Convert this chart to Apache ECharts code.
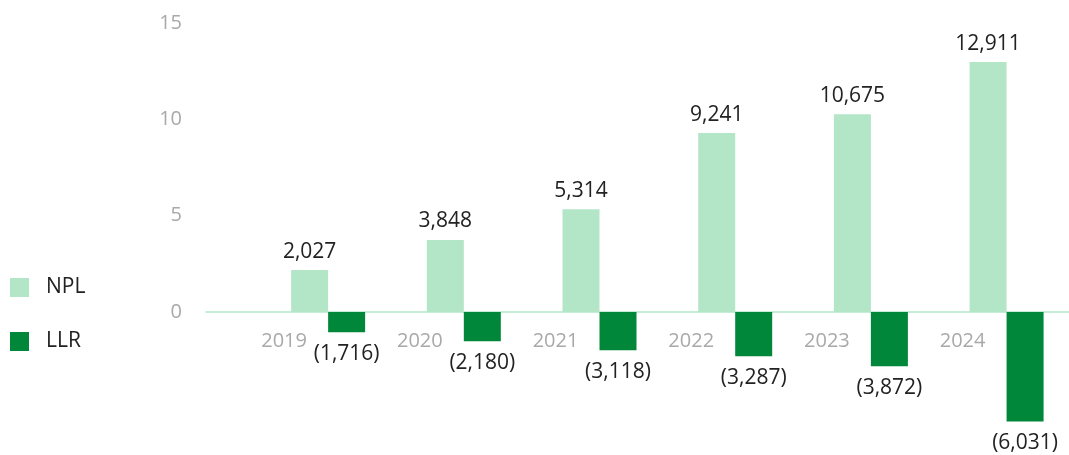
<!DOCTYPE html>
<html>
<head>
<meta charset="utf-8">
<script src="https://cdn.jsdelivr.net/npm/echarts@6/dist/echarts.min.js"></script>
<style>
html,body{margin:0;padding:0;background:#fff;}
#chart{width:1069px;height:455px;}
</style>
</head>
<body>
<div id="chart"></div>
<script>
// Categories
const years = ['2019', '2020', '2021', '2022', '2023', '2024'];
// Bar heights as drawn in the source (axis units, thousands)
const nplBar = [2.18, 3.74, 5.34, 9.29, 10.27, 12.97];
const llrBar = [-1.04, -1.51, -1.98, -2.29, -2.81, -5.68];
// Value labels shown on the source
const nplLabel = ['2,027', '3,848', '5,314', '9,241', '10,675', '12,911'];
const llrLabel = ['(1,716)', '(2,180)', '(3,118)', '(3,287)', '(3,872)', '(6,031)'];
// Y tick labels
const yTicks = [0, 5, 10, 15];

const FONT = '"Open Sans", "Noto Sans", sans-serif';
const H = 455, GRID_TOP = 23, GRID_BOTTOM = 8, Y_MIN = -7, Y_MAX = 15;
const plotH = H - GRID_TOP - GRID_BOTTOM;
// distance from grid bottom up to the zero line
const zeroFromBottom = plotH * (0 - Y_MIN) / (Y_MAX - Y_MIN);

const chart = echarts.init(document.getElementById('chart'), null, {renderer: 'canvas'});

chart.setOption({
  animation: false,
  textStyle: {fontFamily: FONT},
  legend: {
    orient: 'vertical',
    left: 10,
    top: 277,
    padding: 0,
    itemWidth: 19,
    itemHeight: 19,
    itemGap: 33,
    icon: 'rect',
    textStyle: {fontFamily: FONT, fontSize: 21, color: '#222', padding: [0, 0, 0, 12]},
    data: ['NPL', 'LLR']
  },
  grid: {left: 206, right: 0, top: GRID_TOP, bottom: GRID_BOTTOM, containLabel: false, outerBoundsMode: 'none'},
  xAxis: {
    type: 'value',
    min: -0.9,
    max: 5.46,
    position: 'bottom',
    offset: -zeroFromBottom,
    axisLine: {show: true, onZero: false, lineStyle: {color: '#b3e6c7', width: 1.5}},
    axisTick: {show: false},
    splitLine: {show: false},
    axisLabel: {
      customValues: years.map((_, i) => i),
      formatter: v => years[Math.round(v)] || '',
      color: '#a9a9a9',
      fontSize: 20,
      fontFamily: FONT,
      margin: 19,
      padding: [0, 88, 0, 0]
    }
  },
  yAxis: {
    type: 'value',
    min: Y_MIN,
    max: Y_MAX,
    axisLine: {show: false},
    axisTick: {show: false},
    splitLine: {show: false},
    axisLabel: {
      customValues: yTicks,
      color: '#a9a9a9',
      fontSize: 20,
      fontFamily: FONT,
      margin: 24
    }
  },
  series: [
    {
      name: 'NPL',
      type: 'bar',
      barWidth: 37,
      barGap: '0%',
      itemStyle: {color: '#b3e6c7'},
      label: {
        show: true,
        position: 'top',
        distance: 8,
        color: '#222',
        fontSize: 21,
        fontFamily: FONT,
        formatter: p => nplLabel[p.dataIndex]
      },
      data: nplBar.map((v, i) => [i, v])
    },
    {
      name: 'LLR',
      type: 'bar',
      barWidth: 37,
      barGap: '0%',
      itemStyle: {color: '#00873a'},
      label: {
        show: true,
        position: 'bottom',
        distance: 11,
        color: '#222',
        fontSize: 21,
        fontFamily: FONT,
        formatter: p => llrLabel[p.dataIndex]
      },
      data: llrBar.map((v, i) => [i, v])
    }
  ]
});
</script>
</body>
</html>
